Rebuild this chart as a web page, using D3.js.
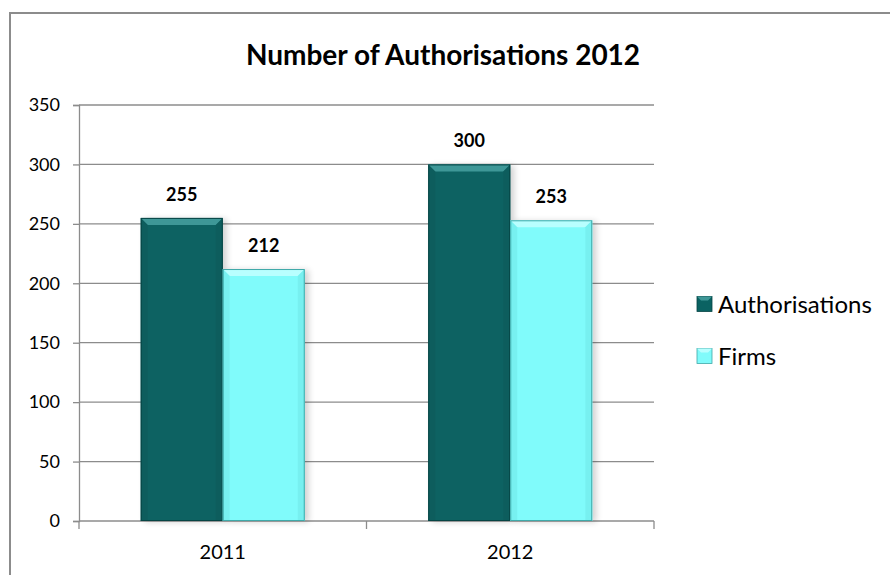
<!DOCTYPE html>
<html><head><meta charset="utf-8">
<script src="https://cdn.jsdelivr.net/npm/d3@7"></script>
<style>body{margin:0;background:#fff}svg{display:block}</style>
</head><body><svg id="c" width="890" height="575"></svg>
<script>
const categories = ["2011", "2012"];
const seriesNames = ["Authorisations", "Firms"];
const authorisations = [255, 300];
const firms = [212, 253];
const yTicks = [0, 50, 100, 150, 200, 250, 300, 350];
const title = "Number of Authorisations 2012";

const colors = {
  Authorisations: {main: "#0a6262", top: "#3e9797", side: "#0d5a5a", edge: "#064444"},
  Firms: {main: "#80fbfb", top: "#b8ffff", side: "#72eaea", edge: "#3fa9a9"}
};
const data = categories.map((c, i) => ({cat: c, values: [
  {key: "Authorisations", v: authorisations[i]},
  {key: "Firms", v: firms[i]}
]}));

const svg = d3.select("#c");
const font = "Lato, 'Carlito', Calibri, sans-serif";
// frame
svg.append("path").attr("d", "M10,576 V13 H891").attr("fill", "none").attr("stroke", "#8c8c8c").attr("stroke-width", 2);

const L = 79, R = 654, T = 105, B = 521;
const x = d3.scaleBand().domain(categories).range([L, R]);
const x1 = d3.scaleBand().domain(seriesNames).range([0, 164]);
const y = d3.scaleLinear().domain([0, 350]).range([B, T]);

const defs = svg.append("defs");
const f = defs.append("filter").attr("id", "sh").attr("x", "-20%").attr("y", "-10%").attr("width", "150%").attr("height", "130%");
f.append("feGaussianBlur").attr("in", "SourceAlpha").attr("stdDeviation", 3);
f.append("feOffset").attr("dx", 4).attr("dy", 1).attr("result", "b");
f.append("feComponentTransfer").append("feFuncA").attr("type", "linear").attr("slope", 0.18);
const m = f.append("feMerge"); m.append("feMergeNode"); m.append("feMergeNode").attr("in", "SourceGraphic");

// gridlines
svg.append("g").selectAll("line").data(yTicks.filter(d => d > 0)).join("line")
  .attr("x1", L).attr("x2", R).attr("y1", d => y(d)).attr("y2", d => y(d))
  .attr("stroke", "#8c8c8c").attr("stroke-width", 1.3);

// axes
const ya = svg.append("g").attr("transform", `translate(${L},0)`)
  .call(d3.axisLeft(y).tickValues(yTicks).tickSize(6).tickPadding(13));
ya.select(".domain").attr("stroke", "#8c8c8c").attr("stroke-width", 1.3);
ya.selectAll(".tick line").attr("stroke", "#8c8c8c").attr("stroke-width", 1.3);
ya.selectAll("text").attr("font-family", font).attr("font-size", 18).attr("fill", "#000");

const xa = svg.append("g").attr("transform", `translate(0,${B})`);
xa.append("line").attr("x1", L).attr("x2", R).attr("stroke", "#8c8c8c").attr("stroke-width", 1.3);
xa.selectAll("line.t").data([L, (L + R) / 2, R]).join("line").attr("class", "t")
  .attr("x1", d => d).attr("x2", d => d).attr("y1", 0).attr("y2", 8).attr("stroke", "#8c8c8c").attr("stroke-width", 1.3);
xa.selectAll("text").data(categories).join("text")
  .attr("x", d => x(d) + x.bandwidth() / 2).attr("y", 38).attr("text-anchor", "middle")
  .attr("font-family", font).attr("font-size", 20).text(d => d);

// bars
const off = (x.bandwidth() - 164) / 2;
const g = svg.append("g").selectAll("g").data(data).join("g")
  .attr("transform", d => `translate(${x(d.cat) + off},0)`);
const bars = g.selectAll("g.bar").data(d => d.values).join("g").attr("class", "bar")
  .attr("transform", d => `translate(${x1(d.key)},0)`);
const bv = 7;
bars.each(function(d) {
  const s = d3.select(this);
  const w = x1.bandwidth(), yt = y(d.v), h = B - yt, c = colors[d.key];
  s.append("rect").attr("x", 0).attr("y", yt).attr("width", w).attr("height", h).attr("fill", c.main).attr("filter", "url(#sh)");
  s.append("path").attr("d", `M0,${yt} H${w} L${w - bv},${yt + bv} H${bv} Z`).attr("fill", c.top);
  s.append("path").attr("d", `M0,${yt} L${bv},${yt + bv} V${B} H0 Z`).attr("fill", c.side).attr("opacity", 0.6);
  s.append("path").attr("d", `M${w},${yt} L${w - bv},${yt + bv} V${B} H${w} Z`).attr("fill", c.side).attr("opacity", 0.6);
  s.append("rect").attr("x", 0.5).attr("y", yt + 0.5).attr("width", w - 1).attr("height", h - 1).attr("fill", "none").attr("stroke", c.edge).attr("stroke-width", 1);
  s.append("text").attr("x", w / 2).attr("y", yt - 17).attr("text-anchor", "middle")
    .attr("font-family", font).attr("font-weight", "bold").attr("font-size", 18).text(d.v);
});

// title
svg.append("text").attr("x", 443).attr("y", 65).attr("text-anchor", "middle")
  .attr("font-family", font).attr("font-weight", "bold").attr("font-size", 28).text(title);

// legend
const lg = svg.append("g").selectAll("g").data(seriesNames).join("g")
  .attr("transform", (d, i) => `translate(697,${304 + i * 52})`);
lg.append("rect").attr("x", 0).attr("y", -7.5).attr("width", 15).attr("height", 15).attr("fill", d => colors[d].main).attr("stroke", d => colors[d].edge).attr("stroke-width", 0.8);
lg.append("path").attr("d", "M0,-7.5 H15 L11,-3.5 H4 Z").attr("fill", d => colors[d].top);
lg.append("text").attr("x", 21).attr("y", 8.5).attr("font-family", font).attr("font-size", 24).text(d => d);
</script></body></html>
